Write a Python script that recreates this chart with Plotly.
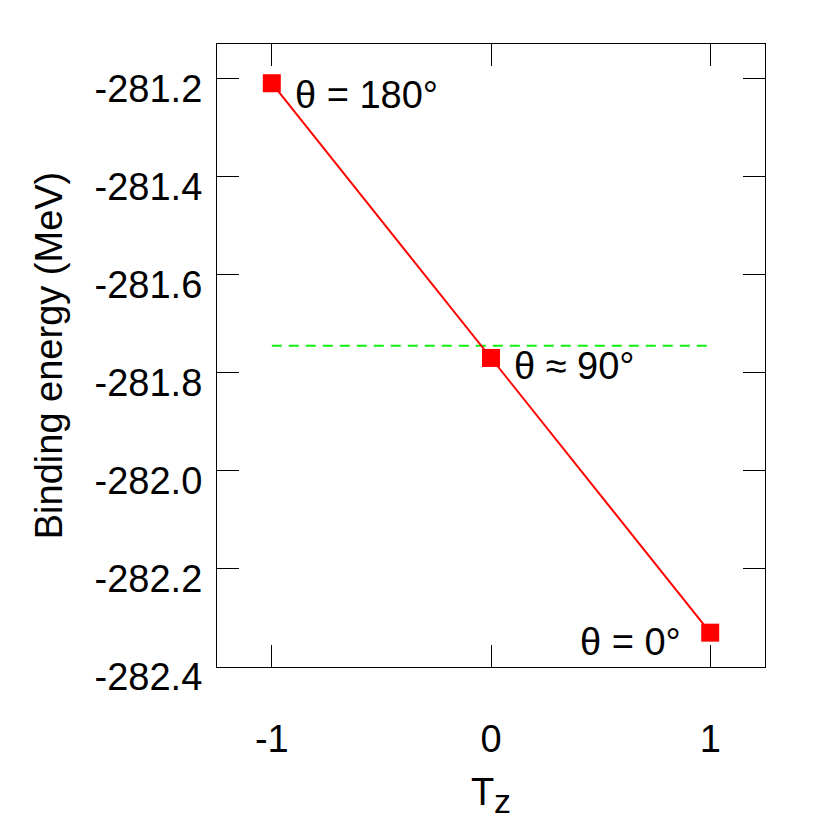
import plotly.graph_objects as go

# Data
tz = [-1, 0, 1]
binding_energy = [-281.21, -281.77, -282.33]
labels = ["θ = 180°", "θ ≈ 90°", "θ = 0°"]
reference_level = -281.745
x_ticks = [-1, 0, 1]
y_ticks = [-281.2, -281.4, -281.6, -281.8, -282.0, -282.2, -282.4]

FONT = "Liberation Sans, Arial, Helvetica, sans-serif"
FS = 38

fig = go.Figure()

fig.add_trace(go.Scatter(
    x=[tz[0], tz[-1]], y=[reference_level, reference_level],
    mode="lines", line=dict(color="#11ee11", width=2, dash="10px,7px"),
    showlegend=False, hoverinfo="skip"))

fig.add_trace(go.Scatter(
    x=tz, y=binding_energy, mode="lines+markers",
    line=dict(color="#ff0000", width=2),
    marker=dict(symbol="square", size=18, color="#ff0000"),
    showlegend=False))

ann_cfg = [
    dict(xanchor="left", xshift=21, yshift=-12),
    dict(xanchor="left", xshift=21, yshift=-8),
    dict(xanchor="right", xshift=-27, yshift=-9),
]
for x, y, t, c in zip(tz, binding_energy, labels, ann_cfg):
    fig.add_annotation(x=x, y=y, text=t, showarrow=False, yanchor="middle",
                       font=dict(family=FONT, size=FS, color="black"), **c)

axis_common = dict(
    showline=True, linecolor="black", linewidth=1.2, mirror="ticks",
    ticks="inside", ticklen=22, tickwidth=1, tickcolor="black",
    showgrid=False, zeroline=False, automargin=False,
    tickfont=dict(family=FONT, size=FS, color="black"),
)

fig.update_layout(
    width=830, height=830,
    paper_bgcolor="white", plot_bgcolor="white",
    margin=dict(l=209, r=73, t=36, b=171),
    font=dict(family=FONT, size=FS, color="black"),
    xaxis=dict(range=[-1.25, 1.25], tickvals=x_ticks,
               ticktext=[str(v) for v in x_ticks],
               ticklabelstandoff=38,
               title=dict(text="T<sub><span style='font-size:34px'>z</span></sub>",
                          standoff=19, font=dict(family=FONT, size=FS)),
               **axis_common),
    yaxis=dict(range=[-282.4, -281.13], tickvals=y_ticks,
               ticktext=[f"{v:.1f}" for v in y_ticks],
               ticklabelstandoff=6, ticklabelshift=10,
               title=dict(text="Binding energy (MeV)", standoff=20,
                          font=dict(family=FONT, size=FS)),
               **axis_common),
)

fig.write_html("out.html")
